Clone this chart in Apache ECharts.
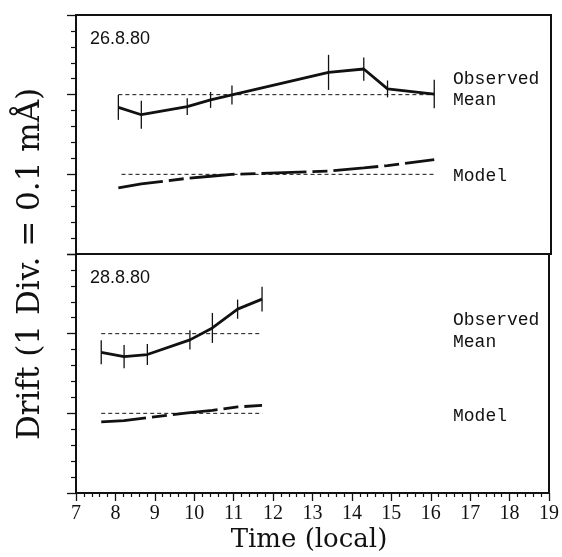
<!DOCTYPE html>
<html>
<head>
<meta charset="utf-8">
<script src="https://cdn.jsdelivr.net/npm/echarts@6/dist/echarts.min.js"></script>
<style>html,body{margin:0;padding:0;background:#fff}#c{width:562px;height:557px}</style>
</head>
<body>
<div id="c"></div>
<script>
// ---- data (hours local, drift in divisions) ----
var xTicks = [7, 8, 9, 10, 11, 12, 13, 14, 15, 16, 17, 18, 19];

var topHours = [8.07, 8.65, 9.81, 10.40, 10.94, 13.38, 14.27, 14.87, 16.05];
var topObs   = [9.20, 8.74, 9.25, 9.67, 9.98, 11.40, 11.61, 10.36, 10.04];
var topErr   = [0.78, 0.88, 0.53, 0.50, 0.60, 1.10, 0.73, 0.53, 0.90];
var topModel = [4.15, 4.40, 4.75, 4.88, 5.00, 5.20, 5.40, 5.55, 5.92];
var topMeanLine  = [[8.07, 10], [16.05, 10]];
var topModelLine = [[8.15, 5], [16.05, 5]];

var botHours = [7.64, 8.22, 8.81, 9.89, 10.46, 11.10, 11.72];
var botObs   = [8.83, 8.56, 8.69, 9.61, 10.36, 11.54, 12.17];
var botErr   = [0.75, 0.73, 0.66, 0.60, 0.94, 0.60, 0.78];
var botModel = [4.46, 4.54, 4.73, 5.04, 5.19, 5.40, 5.50];
var botMeanLine  = [[7.64, 10], [11.72, 10]];
var botModelLine = [[7.64, 5], [11.73, 5]];

var panelLabels = ['26.8.80', '28.8.80'];
var seriesLabels = ['Observed', 'Mean', 'Model'];

function pairs(xs, ys) { return xs.map(function (x, i) { return [x, ys[i]]; }); }
function errs(xs, ys, es) { return xs.map(function (x, i) { return [x, ys[i] - es[i], ys[i] + es[i]]; }); }

var INK = '#111';
var chart = echarts.init(document.getElementById('c'), null, {renderer: 'canvas'});

function yAxisDef(idx) {
  return {
    gridIndex: idx, type: 'value', min: 0, max: 15, interval: 5,
    axisLine: {show: true, lineStyle: {color: INK, width: 2}},
    axisTick: {show: true, length: 9, lineStyle: {color: INK, width: 1.3}},
    minorTick: {show: true, splitNumber: 5, length: 5, lineStyle: {color: INK, width: 1.2}},
    axisLabel: {show: false}, splitLine: {show: false}
  };
}
function xAxisDef(idx, labels) {
  return {
    gridIndex: idx, type: 'value', min: 7, max: 19, interval: 1,
    axisLine: {show: true, onZero: false, lineStyle: {color: INK, width: 2}},
    axisTick: {show: labels, length: 8, lineStyle: {color: INK, width: 1.3}},
    minorTick: {show: labels, splitNumber: 5, length: 4, lineStyle: {color: INK, width: 1.2}},
    axisLabel: {show: labels, margin: 11, color: INK, fontFamily: 'Liberation Serif', fontSize: 20,
      formatter: function (v) { return xTicks.indexOf(v) >= 0 ? String(v) : ''; }},
    splitLine: {show: false}
  };
}
function errSeries(idx, data) {
  return {
    type: 'custom', xAxisIndex: idx, yAxisIndex: idx, data: data, silent: true,
    encode: {x: 0, y: [1, 2]},
    renderItem: function (params, api) {
      var a = api.coord([api.value(0), api.value(1)]);
      var b = api.coord([api.value(0), api.value(2)]);
      return {type: 'line', shape: {x1: a[0], y1: a[1], x2: b[0], y2: b[1]},
        style: {stroke: INK, lineWidth: 1.3}};
    }
  };
}
function lineSeries(idx, data, width, type) {
  return {
    type: 'line', xAxisIndex: idx, yAxisIndex: idx, data: data, showSymbol: false, symbol: 'none',
    silent: true, lineStyle: {color: INK, width: width, type: type}
  };
}

var labelFont = {fontFamily: 'Liberation Mono', fontSize: 18, fill: INK};

var option = {
  animation: false,
  backgroundColor: '#fff',
  grid: [
    {left: 76, right: 11, top: 15, height: 239, show: true, borderColor: INK, borderWidth: 2, backgroundColor: 'transparent'},
    {left: 76, right: 11, top: 254, height: 239, show: true, borderColor: INK, borderWidth: 2, backgroundColor: 'transparent'}
  ],
  xAxis: [xAxisDef(0, false), xAxisDef(1, true)],
  yAxis: [yAxisDef(0), yAxisDef(1)],
  series: [
    lineSeries(0, topMeanLine, 1, [4, 3]),
    lineSeries(0, topModelLine, 1, [4, 3]),
    lineSeries(0, pairs(topHours, topObs), 2.8, 'solid'),
    lineSeries(0, pairs(topHours, topModel), 2.8, [45, 6, 15, 6]),
    errSeries(0, errs(topHours, topObs, topErr)),
    lineSeries(1, botMeanLine, 1, [4, 3]),
    lineSeries(1, botModelLine, 1, [4, 3]),
    lineSeries(1, pairs(botHours, botObs), 2.8, 'solid'),
    lineSeries(1, pairs(botHours, botModel), 2.8, [45, 6, 15, 6]),
    errSeries(1, errs(botHours, botObs, botErr))
  ],
  graphic: [
    {type: 'text', left: 90, top: 30, style: {text: panelLabels[0], fontFamily: 'Liberation Sans', fontSize: 18, fill: INK}},
    {type: 'text', left: 90, top: 269, style: {text: panelLabels[1], fontFamily: 'Liberation Sans', fontSize: 18, fill: INK}},
    {type: 'text', left: 453, top: 70, style: Object.assign({text: seriesLabels[0]}, labelFont)},
    {type: 'text', left: 453, top: 91, style: Object.assign({text: seriesLabels[1]}, labelFont)},
    {type: 'text', left: 453, top: 167, style: Object.assign({text: seriesLabels[2]}, labelFont)},
    {type: 'text', left: 453, top: 311, style: Object.assign({text: seriesLabels[0]}, labelFont)},
    {type: 'text', left: 453, top: 333, style: Object.assign({text: seriesLabels[1]}, labelFont)},
    {type: 'text', left: 453, top: 407, style: Object.assign({text: seriesLabels[2]}, labelFont)},
    {type: 'text', x: 309, y: 540, style: {text: 'Time (local)', fontFamily: 'DejaVu Serif', fontSize: 26, fill: INK,
      textAlign: 'center', textVerticalAlign: 'middle'}},
    {type: 'text', x: 31, y: 264, rotation: Math.PI / 2, style: {text: 'Drift (1 Div. = 0.1 mÅ)', fontFamily: 'DejaVu Serif', fontSize: 31, fill: INK,
      textAlign: 'center', textVerticalAlign: 'middle'}}
  ]
};
chart.setOption(option);
</script>
</body>
</html>
